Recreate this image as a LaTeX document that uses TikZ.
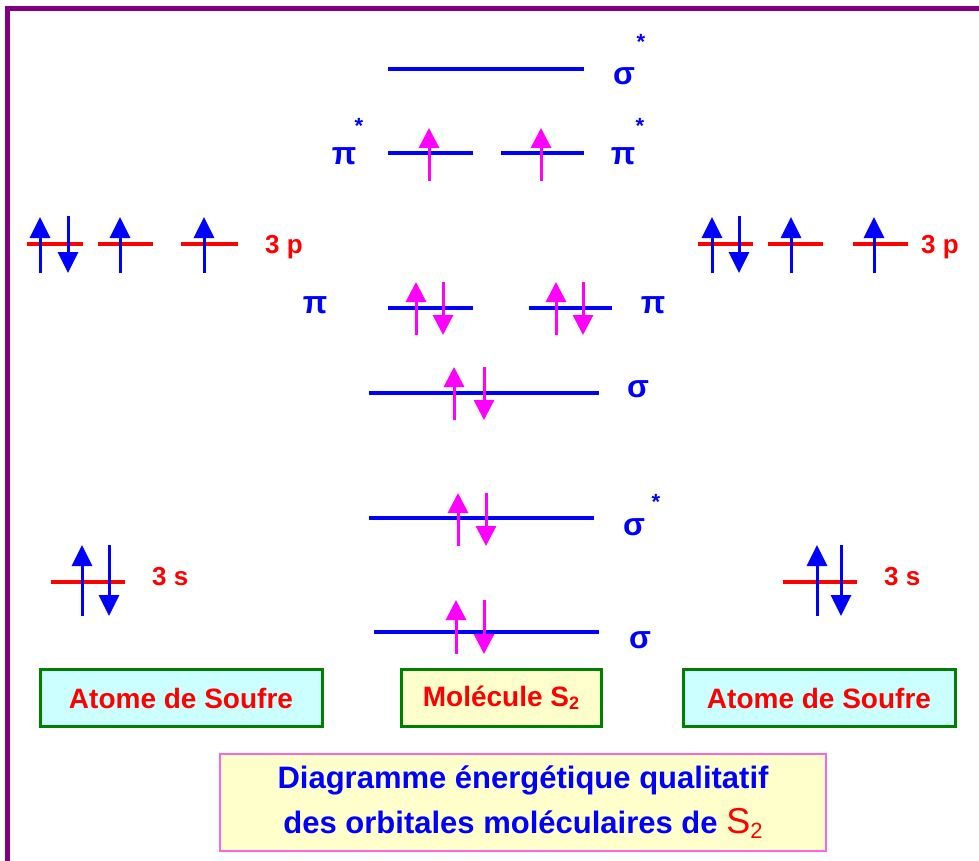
\documentclass[tikz,border=0pt]{standalone}
\usepackage{fontspec}
\setmainfont{Liberation Sans}
\usetikzlibrary{arrows.meta}
\definecolor{frame}{HTML}{800080}
\definecolor{lblue}{HTML}{0000FF}
\definecolor{lred}{HTML}{FF0000}
\definecolor{lmag}{HTML}{FF00FF}
\definecolor{boxgreen}{HTML}{008000}
\definecolor{cyanfill}{HTML}{CCFFFF}
\definecolor{yelfill}{HTML}{FFFFCC}
\definecolor{pinkedge}{HTML}{FF66DD}
\tikzset{
  mo/.style={draw=lblue, line width=4pt},
  ao/.style={draw=lred, line width=4pt},
  barr/.style={draw=lblue, line width=3pt, -{Triangle[width=20pt,length=21pt]}},
  marr/.style={draw=lmag, line width=3pt, -{Triangle[width=20pt,length=20pt]}},
  greek/.style={text=lblue, font=\fontsize{32}{34}\selectfont\bfseries, inner sep=0pt, anchor=base},
  star/.style={text=lblue, font=\fontsize{22}{24}\selectfont\bfseries, inner sep=0pt},
  aolabel/.style={text=lred, font=\fontsize{26}{28}\selectfont\bfseries, inner sep=0pt, anchor=base west},
  namebox/.style={draw=boxgreen, line width=3pt, text=lred, font=\fontsize{28}{30}\selectfont\bfseries, minimum height=57pt, inner sep=0pt},
}
\begin{document}
\begin{tikzpicture}[x=1pt,y=-1pt]
\useasboundingbox (0,0) rectangle (979,861);
\fill[white] (0,0) rectangle (979,861);
% frame
\draw[frame, line width=5pt] (7.5,861) -- (7.5,9) -- (979,9);
% ---- molecular orbitals ----
% sigma* (top)
\draw[mo] (388,69) -- (584,69);
\node[greek] (ss2) at (624,85) {σ};
\node[star] (ss2s) at (641,42) {*};
% pi*
\draw[mo] (388,153) -- (473,153);
\draw[mo] (501,153) -- (584,153);
\draw[marr] (429,181) -- (429,128);
\draw[marr] (541,181) -- (541,128);
\node[greek] (pisl) at (344,165) {π};
\node[star] (pisls) at (359,126) {*};
\node[greek] (pisr) at (623,165) {π};
\node[star] (pisrs) at (640,126) {*};
% pi
\draw[mo] (388,308) -- (473,308);
\draw[mo] (529,308) -- (612,308);
\draw[marr] (416,335) -- (416,282);
\draw[marr] (443,282) -- (443,335);
\draw[marr] (556,335) -- (556,282);
\draw[marr] (583,282) -- (583,335);
\node[greek] (pil) at (315,313) {π};
\node[greek] (pir) at (653,313) {π};
% sigma (3p)
\draw[mo] (369,393) -- (599,393);
\draw[marr] (454,420) -- (454,367);
\draw[marr] (484,367) -- (484,420);
\node[greek] (sp) at (638,397) {σ};
% sigma* (3s)
\draw[mo] (369,518) -- (594,518);
\draw[marr] (458,546) -- (458,493);
\draw[marr] (486,493) -- (486,546);
\node[greek] (ss1) at (634,535) {σ};
\node[star] (ss1s) at (656,502) {*};
% sigma (3s)
\draw[mo] (374,632) -- (599,632);
\draw[marr] (456,654) -- (456,600);
\draw[marr] (484,600) -- (484,654);
\node[greek] (s1) at (640,648) {σ};
% ---- left atom ----
\draw[ao] (27,244) -- (83,244);
\draw[ao] (98,244) -- (153,244);
\draw[ao] (181,244) -- (238,244);
\draw[barr] (40,273) -- (40,217);
\draw[barr] (68,216) -- (68,273);
\draw[barr] (120,273) -- (120,217);
\draw[barr] (204,273) -- (204,217);
\node[aolabel] (l3p) at (265,253) {3 p};
\draw[ao] (51,582) -- (125,582);
\draw[barr] (82,616) -- (82,545);
\draw[barr] (109,545) -- (109,616);
\node[aolabel] (l3s) at (152,585) {3 s};
% ---- right atom ----
\draw[ao] (698,244) -- (753,244);
\draw[ao] (768,244) -- (823,244);
\draw[ao] (853,244) -- (908,244);
\draw[barr] (712,273) -- (712,217);
\draw[barr] (739,216) -- (739,273);
\draw[barr] (791,273) -- (791,217);
\draw[barr] (874,273) -- (874,217);
\node[aolabel] (r3p) at (921,253) {3 p};
\draw[ao] (783,582) -- (857,582);
\draw[barr] (817,616) -- (817,545);
\draw[barr] (841,545) -- (841,616);
\node[aolabel] (r3s) at (884,585) {3 s};
% ---- name boxes ----
\node[namebox, fill=cyanfill, minimum width=282pt] (atl) at (181,698) {Atome de Soufre};
\node[namebox, fill=yelfill, minimum width=200pt] (mol) at (501,698) {Molécule S\raisebox{-0.2ex}{\fontsize{18}{20}\selectfont 2}};
\node[namebox, fill=cyanfill, minimum width=272pt] (atr) at (819,698) {Atome de Soufre};
% ---- title ----
\node[draw=pinkedge, line width=1.5pt, fill=yelfill, minimum width=606pt, minimum height=97pt, inner sep=0pt,
      text=lblue, align=center, font=\fontsize{31}{45}\selectfont\bfseries] (title) at (523,802.5)
  {Diagramme énergétique qualitatif\\des orbitales moléculaires de {\color{lred}\fontsize{36}{45}\selectfont\mdseries S\raisebox{-0.25ex}{\fontsize{22}{24}\selectfont 2}}};
\end{tikzpicture}
\end{document}
